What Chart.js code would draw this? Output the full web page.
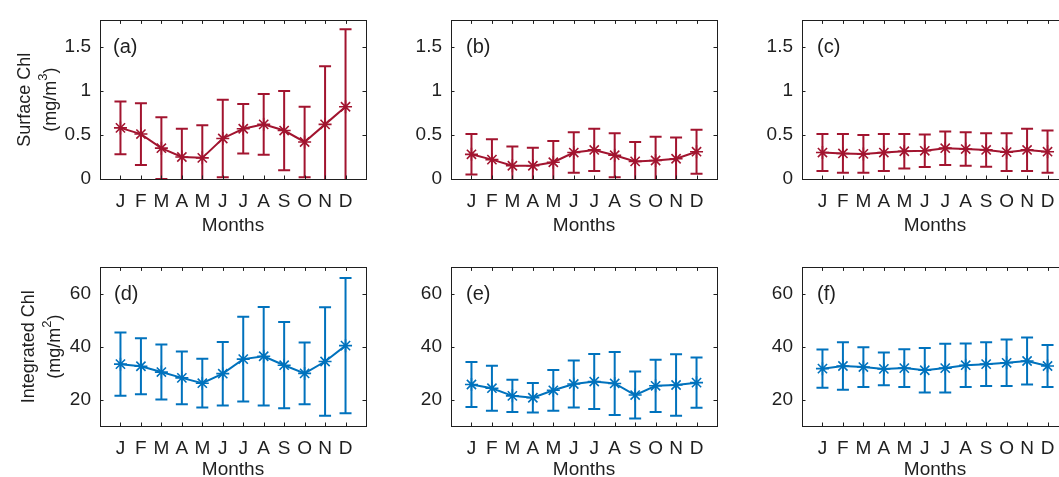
<!DOCTYPE html>
<html>
<head>
<meta charset="utf-8">
<script src="https://cdn.jsdelivr.net/npm/chart.js@4.4.1/dist/chart.umd.min.js"></script>
<style>
  html, body { margin: 0; padding: 0; background: #ffffff; }
  body { position: relative; width: 1059px; height: 477px; overflow: hidden; }
  .panel { position: absolute; width: 380px; height: 250px; }
  .panel canvas { display: block; }
</style>
</head>
<body>
<div class="panel" style="left:0px;top:0px"><canvas id="pa" width="380" height="250"></canvas></div>
<div class="panel" style="left:351px;top:0px"><canvas id="pb" width="380" height="250"></canvas></div>
<div class="panel" style="left:702px;top:0px"><canvas id="pc" width="380" height="250"></canvas></div>
<div class="panel" style="left:0px;top:247px"><canvas id="pd" width="380" height="250"></canvas></div>
<div class="panel" style="left:351px;top:247px"><canvas id="pe" width="380" height="250"></canvas></div>
<div class="panel" style="left:702px;top:247px"><canvas id="pf" width="380" height="250"></canvas></div>
<script>
// Month tick labels
const monthLabels = ['J', 'F', 'M', 'A', 'M', 'J', 'J', 'A', 'S', 'O', 'N', 'D'];

// Y tick values
const surfaceTicks = [0, 0.5, 1, 1.5];
const integratedTicks = [20, 40, 60];

// Surface chlorophyll (mg/m^3): monthly mean and standard deviation
const surfaceMeanA = [0.58, 0.51, 0.35, 0.25, 0.24, 0.46, 0.57, 0.62, 0.55, 0.42, 0.62, 0.82];
const surfaceStdA  = [0.30, 0.35, 0.35, 0.32, 0.37, 0.44, 0.28, 0.345, 0.45, 0.40, 0.66, 0.88];
const surfaceMeanB = [0.28, 0.22, 0.15, 0.15, 0.19, 0.30, 0.33, 0.27, 0.20, 0.21, 0.23, 0.31];
const surfaceStdB  = [0.23, 0.23, 0.22, 0.205, 0.24, 0.23, 0.24, 0.25, 0.22, 0.27, 0.24, 0.25];
const surfaceMeanC = [0.30, 0.29, 0.285, 0.30, 0.315, 0.32, 0.35, 0.34, 0.33, 0.305, 0.33, 0.31];
const surfaceStdC  = [0.21, 0.22, 0.215, 0.21, 0.195, 0.185, 0.19, 0.19, 0.19, 0.215, 0.24, 0.24];

// Integrated chlorophyll (mg/m^2): monthly mean and standard deviation
const integratedMeanD = [33.4, 32.6, 30.4, 28.2, 26.2, 29.8, 35.3, 36.4, 33.0, 29.9, 34.4, 40.4];
const integratedStdD  = [12.0, 10.6, 10.4, 10.0, 9.2, 12.0, 16.0, 18.6, 16.3, 11.7, 20.5, 25.6];
const integratedMeanE = [25.7, 24.3, 21.4, 20.7, 23.5, 25.9, 26.8, 26.1, 21.7, 25.2, 25.5, 26.4];
const integratedStdE  = [8.5, 8.5, 6.1, 5.6, 7.7, 8.9, 10.4, 11.9, 8.9, 9.9, 11.6, 9.5];
const integratedMeanF = [31.7, 32.7, 32.3, 31.6, 31.9, 31.1, 31.9, 33.0, 33.4, 33.9, 34.6, 32.7];
const integratedStdF  = [7.2, 9.0, 7.5, 6.2, 7.1, 8.4, 9.2, 8.2, 8.3, 8.8, 8.9, 7.9];

const RED = '#A2142F';
const BLUE = '#0072BD';
const INK = '#1f1f1f';
const FAMILY = '"Liberation Sans", Arial, Helvetica, sans-serif';

// Error bars, axes box, inward ticks, panel letter and y-axis title
const panelDecor = {
  id: 'panelDecor',
  beforeDatasetsDraw(chart, args, opts) {
    const { ctx, chartArea: a } = chart;
    const xs = chart.scales.x, ys = chart.scales.y;
    const pts = chart.data.datasets[0].data;
    ctx.save();
    ctx.beginPath();
    ctx.rect(a.left, a.top, a.right - a.left, a.bottom - a.top);
    ctx.clip();
    ctx.strokeStyle = opts.color;
    ctx.lineWidth = 2;
    const cap = 6;
    pts.forEach((p, i) => {
      const px = xs.getPixelForValue(p.x);
      const yHi = ys.getPixelForValue(p.y + opts.std[i]);
      const yLo = ys.getPixelForValue(p.y - opts.std[i]);
      ctx.beginPath();
      ctx.moveTo(px, yHi); ctx.lineTo(px, yLo);
      ctx.moveTo(px - cap, yHi); ctx.lineTo(px + cap, yHi);
      ctx.moveTo(px - cap, yLo); ctx.lineTo(px + cap, yLo);
      ctx.stroke();
    });
    ctx.restore();
  },
  afterDraw(chart, args, opts) {
    const { ctx, chartArea: a } = chart;
    const xs = chart.scales.x, ys = chart.scales.y;
    ctx.save();
    ctx.strokeStyle = INK;
    ctx.lineWidth = 1;
    // box
    ctx.strokeRect(Math.round(a.left) + 0.5, Math.round(a.top) + 0.5,
                   Math.round(a.right - a.left), Math.round(a.bottom - a.top));
    // inward ticks
    const tl = 3.5;
    ctx.beginPath();
    xs.ticks.forEach(t => {
      const px = Math.round(xs.getPixelForValue(t.value)) + 0.5;
      ctx.moveTo(px, a.bottom); ctx.lineTo(px, a.bottom - tl);
      ctx.moveTo(px, a.top); ctx.lineTo(px, a.top + tl);
    });
    ys.ticks.forEach(t => {
      const py = Math.round(ys.getPixelForValue(t.value)) + 0.5;
      ctx.moveTo(a.left, py); ctx.lineTo(a.left + tl, py);
      ctx.moveTo(a.right, py); ctx.lineTo(a.right - tl, py);
    });
    ctx.stroke();
    // panel letter
    ctx.fillStyle = INK;
    ctx.font = '20px ' + FAMILY;
    ctx.textAlign = 'left';
    ctx.textBaseline = 'middle';
    ctx.fillText(opts.letter, a.left + opts.letterDx, a.top + 27);
    // y-axis title (two lines, second with superscript)
    if (opts.yTitle) {
      const cy = (a.top + a.bottom) / 2;
      const t = opts.yTitle;
      ctx.translate(t.x1, cy);
      ctx.rotate(-Math.PI / 2);
      ctx.font = '18px ' + FAMILY;
      ctx.textAlign = 'center';
      ctx.fillText(t.line1, 0, 0);
      ctx.restore();
      ctx.save();
      ctx.fillStyle = INK;
      ctx.translate(t.x2, cy);
      ctx.rotate(-Math.PI / 2);
      ctx.textBaseline = 'middle';
      ctx.textAlign = 'left';
      const mainFont = '18px ' + FAMILY, supFont = '13px ' + FAMILY;
      ctx.font = mainFont;
      const w1 = ctx.measureText(t.pre).width;
      const w3 = ctx.measureText(t.post).width;
      ctx.font = supFont;
      const w2 = ctx.measureText(t.sup).width;
      let x = -(w1 + w2 + w3) / 2;
      ctx.font = mainFont;
      ctx.fillText(t.pre, x, 0); x += w1;
      ctx.font = supFont;
      ctx.fillText(t.sup, x, -8); x += w2;
      ctx.font = mainFont;
      ctx.fillText(t.post, x, 0);
    }
    ctx.restore();
  }
};

function makePanel(id, letter, letterDx, mean, std, color, yTicks, yMin, yMax, yTitle, titlePad) {
  const font = { family: FAMILY, size: 19 };
  new Chart(document.getElementById(id), {
    type: 'line',
    data: {
      datasets: [{
        data: mean.map((v, i) => ({ x: i + 1, y: v })),
        borderColor: color,
        backgroundColor: color,
        borderWidth: 2,
        tension: 0,
        pointStyle: 'star',
        pointRadius: 6.5,
        pointBorderWidth: 1.6,
        pointBorderColor: color,
        pointBackgroundColor: color
      }]
    },
    options: {
      responsive: false,
      animation: false,
      devicePixelRatio: 1,
      layout: { padding: { top: 16, right: 14, left: 0, bottom: 0 } },
      plugins: {
        legend: { display: false },
        tooltip: { enabled: false },
        panelDecor: { letter, letterDx, std, color, yTitle }
      },
      scales: {
        x: {
          type: 'linear', min: 0, max: 13,
          grid: { display: false, drawTicks: false },
          border: { display: false },
          afterBuildTicks: s => { s.ticks = monthLabels.map((_, i) => ({ value: i + 1 })); },
          afterFit: s => { s.height = 71; },
          ticks: {
            autoSkip: false, maxRotation: 0, minRotation: 0, padding: 11,
            color: INK, font,
            callback: v => monthLabels[v - 1]
          },
          title: {
            display: true, text: 'Months', color: INK, font,
            padding: { top: 0, bottom: titlePad }
          }
        },
        y: {
          type: 'linear', min: yMin, max: yMax,
          grid: { display: false, drawTicks: false },
          border: { display: false },
          afterBuildTicks: s => { s.ticks = yTicks.map(v => ({ value: v })); },
          afterFit: s => { s.width = 100; },
          ticks: { padding: 9, color: INK, font, callback: v => String(v) }
        }
      }
    },
    plugins: [panelDecor]
  });
}

makePanel('pa', '(a)', 13, surfaceMeanA, surfaceStdA, RED, surfaceTicks, 0, 1.8,
  { x1: 25, x2: 51, line1: 'Surface Chl', pre: '(mg/m', sup: '3', post: ')' }, 13);
makePanel('pb', '(b)', 15, surfaceMeanB, surfaceStdB, RED, surfaceTicks, 0, 1.8, null, 13);
makePanel('pc', '(c)', 15, surfaceMeanC, surfaceStdC, RED, surfaceTicks, 0, 1.8, null, 13);
makePanel('pd', '(d)', 14, integratedMeanD, integratedStdD, BLUE, integratedTicks, 10, 70,
  { x1: 29, x2: 55, line1: 'Integrated Chl', pre: '(mg/m', sup: '2', post: ')' }, 16);
makePanel('pe', '(e)', 15, integratedMeanE, integratedStdE, BLUE, integratedTicks, 10, 70, null, 16);
makePanel('pf', '(f)', 15, integratedMeanF, integratedStdF, BLUE, integratedTicks, 10, 70, null, 16);
</script>
</body>
</html>
